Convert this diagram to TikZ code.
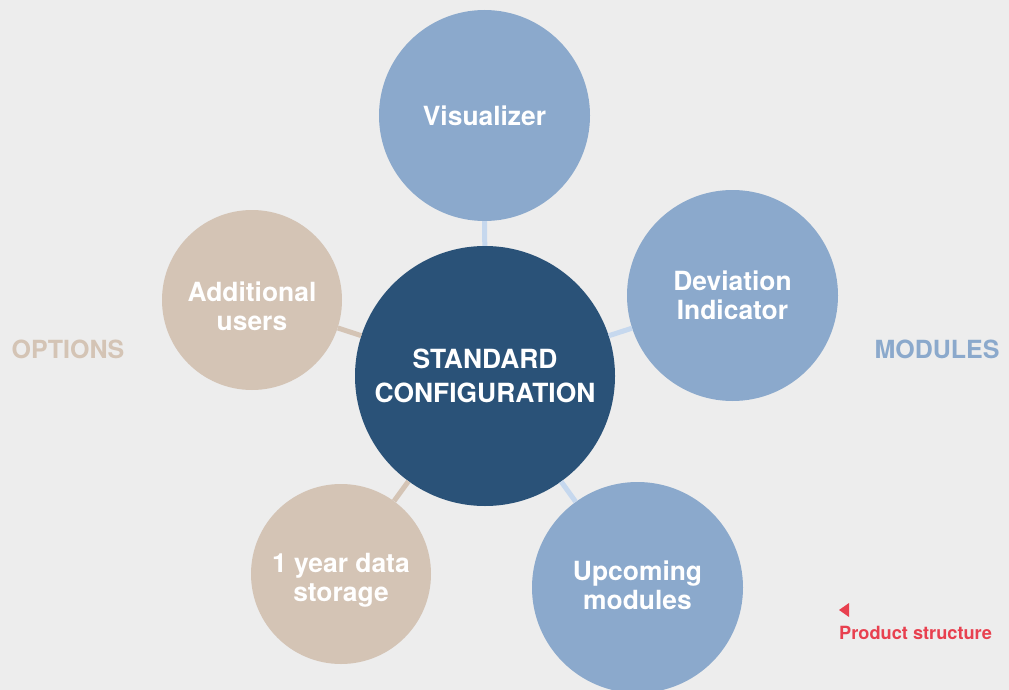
\documentclass[tikz,border=0pt]{standalone}
\usepackage{fontspec}
\setmainfont{TeX Gyre Heros}
\definecolor{bg}{HTML}{EDEDED}
\definecolor{darkblue}{HTML}{2A5278}
\definecolor{modblue}{HTML}{8BA9CC}
\definecolor{optbeige}{HTML}{D4C4B5}
\definecolor{linkblue}{HTML}{C6D8EE}
\definecolor{accentred}{HTML}{E8404F}
\tikzset{
  bubble/.style={circle, inner sep=0pt, minimum size=#1},
  modbubble/.style={bubble=211pt, fill=modblue},
  optbubble/.style={bubble=180pt, fill=optbeige},
  label text/.style={text=white, align=center, font=\fontsize{26.4}{29}\selectfont\bfseries},
  modlink/.style={draw=linkblue, line width=5pt},
  optlink/.style={draw=optbeige, line width=5pt},
  side title/.style={font=\fontsize{25}{28}\selectfont\bfseries, anchor=base}
}
\begin{document}
\begin{tikzpicture}[x=1pt,y=-1pt]
\fill[bg] (0,0) rectangle (1009,690);
\useasboundingbox (0,0) rectangle (1009,690);
% circles
\node[modbubble] (vis) at (484.5,115.5) {};
\node[modbubble] (dev) at (732.5,295.5) {};
\node[modbubble] (upc) at (637.5,587.5) {};
\node[optbubble] (usr) at (252,300) {};
\node[optbubble] (sto) at (341,574) {};
\node[bubble=260pt, fill=darkblue] (std) at (485,376) {};
% connectors
\path[modlink] (std) -- (vis);
\path[modlink] (std) -- (dev);
\path[modlink] (std) -- (upc);
\path[optlink] (std) -- (usr);
\path[optlink] (std) -- (sto);
% texts
\node[label text] (visT) at (vis) {Visualizer};
\node[label text] (devT) at (dev) {Deviation\\Indicator};
\node[label text] (upcT) at (637.5,585.5) {Upcoming\\modules};
\node[label text] (usrT) at (252,306) {Additional\\users};
\node[label text] (stoT) at (341,580) {1 year data\\storage};
\node[label text, font=\fontsize{26.4}{34}\selectfont\bfseries] (stdT) at (std) {STANDARD\\CONFIGURATION};
\node[side title, text=optbeige] (opt) at (68,358) {OPTIONS};
\node[side title, text=modblue] (mod) at (937,358) {MODULES};
\fill[accentred] (839,610) -- (849,603) -- (849,617) -- cycle;
\node[font=\fontsize{18.2}{21}\selectfont\bfseries, text=accentred, anchor=base west, inner sep=0pt] (ps) at (839,639) {Product structure};
\end{tikzpicture}
\end{document}
